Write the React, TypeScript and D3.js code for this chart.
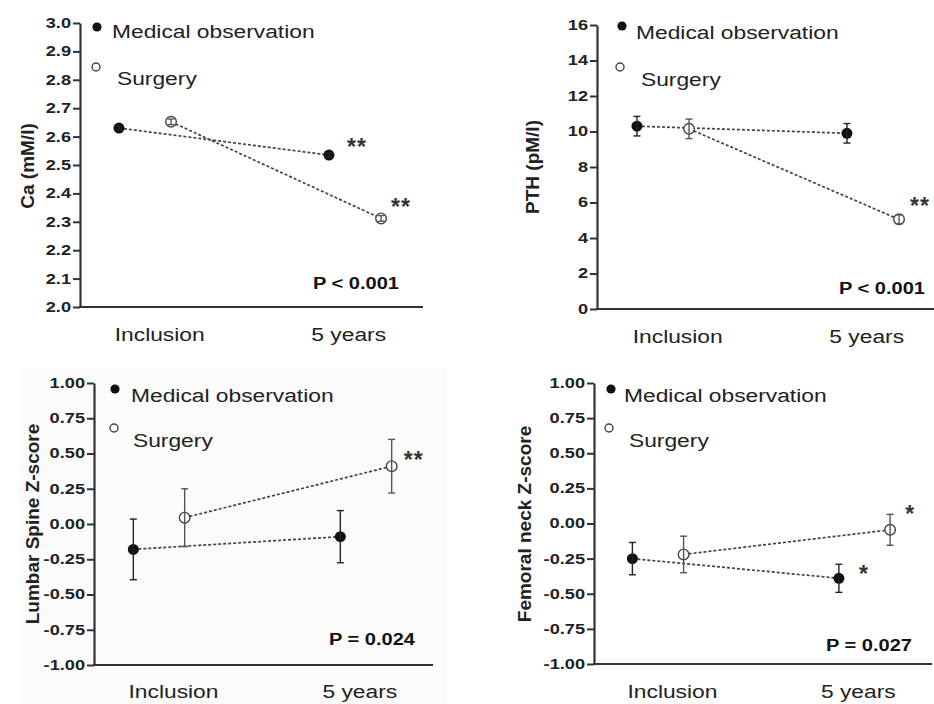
import React, { useEffect, useRef } from "react";
import * as d3 from "d3";

// time points on the x axis
const timepoints = ["Inclusion", "5 years"];
const seriesNames = ["Medical observation", "Surgery"];

// serum calcium (mM/l)
const caMedical = [2.63, 2.535];
const caMedicalErr = [0.006, 0.006];
const caSurgery = [2.652, 2.312];
const caSurgeryErr = [0.01, 0.01];
const caStars = [["", "**"], ["", "**"]];

// PTH (pM/l)
const pthMedical = [10.3, 9.9];
const pthMedicalErr = [0.55, 0.55];
const pthSurgery = [10.15, 5.05];
const pthSurgeryErr = [0.55, 0.25];
const pthStars = [["", ""], ["", "**"]];

// lumbar spine Z-score
const lsMedical = [-0.18, -0.09];
const lsMedicalErr = [0.215, 0.185];
const lsSurgery = [0.045, 0.41];
const lsSurgeryErr = [0.205, 0.19];
const lsStars = [["", ""], ["", "**"]];

// femoral neck Z-score
const fnMedical = [-0.25, -0.39];
const fnMedicalErr = [0.115, 0.1];
const fnSurgery = [-0.22, -0.045];
const fnSurgeryErr = [0.13, 0.11];
const fnStars = [["", "*"], ["", "*"]];

const caTicks = d3.range(0, 11).map(i => 2 + i / 10);
const pthTicks = d3.range(0, 17, 2);
const zTicks = d3.range(0, 9).map(i => -1 + i * 0.25);

const FONT = "'Liberation Sans', Arial, sans-serif";
const INK = "#222";

// d3.format gives a unicode minus, the figure uses a plain hyphen
const hyphen = (f: (n: number) => string) => (n: number) => f(n).replace("\u2212", "-");

const panels = [
  {
    title: "Ca (mM/l)", pText: "P < 0.001",
    dom: [2, 3], ticks: caTicks, fmt: hyphen(d3.format(".1f")),
    med: caMedical, medErr: caMedicalErr, sur: caSurgery, surErr: caSurgeryErr, stars: caStars,
    // layout
    ax: 80, top: 23, bot: 307, end: 423, g0: 145, gap: 210,
    titleX: 27, titleY: 166, labY: 341, pX: 399, pY: 289,
    leg: [97, 27, 112, 38, 96, 67, 117, 85],
    starOff: [[28, -14], [20, -17]]
  },
  {
    title: "PTH (pM/l)", pText: "P < 0.001",
    dom: [0, 16], ticks: pthTicks, fmt: d3.format("d"),
    med: pthMedical, medErr: pthMedicalErr, sur: pthSurgery, surErr: pthSurgeryErr, stars: pthStars,
    ax: 597, top: 25, bot: 309, end: 950, g0: 663, gap: 210,
    titleX: 532, titleY: 167, labY: 343, pX: 925, pY: 294,
    leg: [622, 26, 636, 39, 620, 67, 641, 86],
    starOff: [[28, -14], [21, -19]]
  },
  {
    title: "Lumbar Spine Z-score", pText: "P = 0.024",
    dom: [-1, 1], ticks: zTicks, fmt: hyphen(d3.format(".2f")),
    med: lsMedical, medErr: lsMedicalErr, sur: lsSurgery, surErr: lsSurgeryErr, stars: lsStars,
    ax: 94, top: 383, bot: 665, end: 433, g0: 159, gap: 207,
    titleX: 32, titleY: 524, labY: 698, pX: 415, pY: 645,
    leg: [115, 389, 131, 402, 114, 428, 133, 447],
    starOff: [[28, -14], [22, -12]],
    bg: [20, 368, 427, 336]
  },
  {
    title: "Femoral neck Z-score", pText: "P = 0.027",
    dom: [-1, 1], ticks: zTicks, fmt: hyphen(d3.format(".2f")),
    med: fnMedical, medErr: fnMedicalErr, sur: fnSurgery, surErr: fnSurgeryErr, stars: fnStars,
    ax: 594, top: 383, bot: 664, end: 932, g0: 658, gap: 206.5,
    titleX: 524, titleY: 524, labY: 698, pX: 912, pY: 651,
    leg: [611, 389, 624, 402, 609, 428, 629, 447],
    starOff: [[25, -10], [20, -22]]
  }
];

function drawPanel(root: any, p: any) {
  const g = root.append("g");

  if (p.bg) {
    g.append("rect").attr("x", p.bg[0]).attr("y", p.bg[1])
      .attr("width", p.bg[2]).attr("height", p.bg[3]).attr("fill", "#fbfbfb");
  }

  const y = d3.scaleLinear().domain(p.dom).range([p.bot, p.top]);
  const x = d3.scaleLinear().domain([0, 1]).range([p.g0, p.g0 + p.gap]);
  const off = 0.124; // medical left, surgery right of each time point

  // y axis
  const yAxis = d3.axisLeft(y).tickValues(p.ticks).tickSize(7).tickSizeOuter(0).tickFormat(p.fmt);
  const gY = g.append("g").attr("transform", `translate(${p.ax},0)`).call(yAxis);
  gY.select(".domain").attr("stroke", "#333").attr("stroke-width", 2.2);
  gY.selectAll(".tick line").attr("stroke", "#333").attr("stroke-width", 2);
  gY.selectAll(".tick text")
    .attr("x", -9 / 1.3)
    .attr("transform", "scale(1.3,1)")
    .attr("fill", INK)
    .style("font-family", FONT)
    .style("font-weight", "bold")
    .style("font-size", "14px");

  // x axis line
  g.append("line")
    .attr("x1", p.ax - 1).attr("x2", p.end)
    .attr("y1", p.bot).attr("y2", p.bot)
    .attr("stroke", "#333").attr("stroke-width", 2.2);

  // x labels
  const labPos = [0.07, 0.97];
  timepoints.forEach((t, i) => {
    g.append("text")
      .attr("transform", `translate(${x(labPos[i])},${p.labY}) scale(1.2,1)`)
      .attr("text-anchor", "middle")
      .attr("fill", INK)
      .style("font-family", FONT).style("font-size", "19px")
      .text(t);
  });

  // y title
  g.append("text")
    .attr("transform", `translate(${p.titleX},${p.titleY}) rotate(-90)`)
    .attr("text-anchor", "middle")
    .attr("dominant-baseline", "central")
    .attr("fill", INK)
    .style("font-family", FONT).style("font-weight", "bold").style("font-size", "19px")
    .text(p.title);

  const series = [
    { vals: p.med, err: p.medErr, dx: -off, filled: true },
    { vals: p.sur, err: p.surErr, dx: off, filled: false }
  ];

  series.forEach((s, si) => {
    const pts = s.vals.map((v: number, i: number) => [x(i + s.dx), y(v)]);
    g.append("path")
      .attr("d", d3.line()(pts))
      .attr("fill", "none")
      .attr("stroke", "#444")
      .attr("stroke-width", 1.7)
      .attr("stroke-dasharray", "3,2");

    s.vals.forEach((v: number, i: number) => {
      const cx = x(i + s.dx);
      const e = s.err[i];
      if (s.filled) {
        g.append("circle").attr("cx", cx).attr("cy", y(v)).attr("r", 5.5).attr("fill", "#111");
      } else {
        g.append("circle").attr("cx", cx).attr("cy", y(v)).attr("r", 5.3)
          .attr("fill", "#fff").attr("stroke", "#444").attr("stroke-width", 1.4);
      }
      const eg = g.append("g").attr("stroke", s.filled ? "#222" : "#555").attr("stroke-width", 1.4);
      eg.append("line").attr("x1", cx).attr("x2", cx).attr("y1", y(v - e)).attr("y2", y(v + e));
      [v - e, v + e].forEach(ev => {
        eg.append("line").attr("x1", cx - 3.5).attr("x2", cx + 3.5).attr("y1", y(ev)).attr("y2", y(ev));
      });

      const star = p.stars[si][i];
      if (star) {
        g.append("text")
          .attr("x", cx + p.starOff[si][0])
          .attr("y", y(v) + p.starOff[si][1] + 14)
          .attr("text-anchor", "middle")
          .attr("fill", "#333")
          .style("font-family", FONT).style("font-size", "23px").style("font-weight", "bold")
          .style("letter-spacing", "1px")
          .text(star);
      }
    });
  });

  // p value
  g.append("text")
    .attr("transform", `translate(${p.pX},${p.pY}) scale(1.18,1)`)
    .attr("text-anchor", "end")
    .attr("fill", "#111")
    .style("font-family", FONT).style("font-weight", "bold").style("font-size", "17px")
    .text(p.pText);

  // legend
  const L = p.leg;
  g.append("circle").attr("cx", L[0]).attr("cy", L[1]).attr("r", 4.6).attr("fill", "#111");
  g.append("circle").attr("cx", L[4]).attr("cy", L[5]).attr("r", 4)
    .attr("fill", "#fff").attr("stroke", "#444").attr("stroke-width", 1.4);
  [[L[2], L[3]], [L[6], L[7]]].forEach((pos, i) => {
    g.append("text")
      .attr("transform", `translate(${pos[0]},${pos[1]}) scale(1.2,1)`)
      .attr("fill", INK)
      .style("font-family", FONT).style("font-size", "19px")
      .text(seriesNames[i]);
  });
}

export default function App() {
  const ref = useRef<SVGSVGElement | null>(null);

  useEffect(() => {
    const svg = d3.select(ref.current);
    svg.selectAll("*").remove();
    svg.append("rect").attr("width", 934).attr("height", 704).attr("fill", "#fff");
    panels.forEach(p => drawPanel(svg, p));
  }, []);

  return (
    <div style={{ position: "absolute", left: 0, top: 0 }}>
      <svg ref={ref} width={934} height={704} style={{ display: "block" }} />
    </div>
  );
}
